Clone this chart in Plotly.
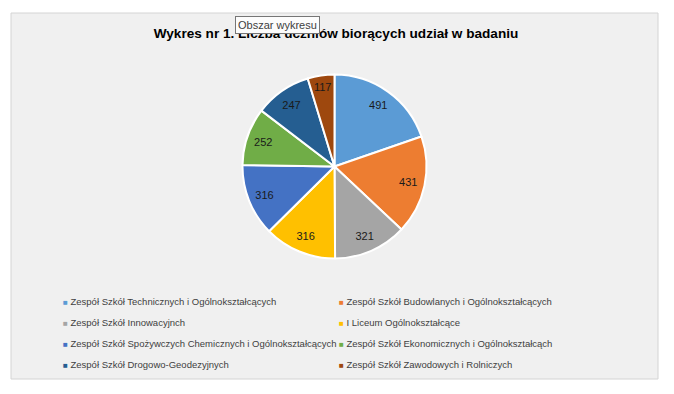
import plotly.graph_objects as go

# page is 674x394; the html body has an 8px margin, so the figure is drawn
# at (8, 8) and sized to fit exactly inside the window.
PAGE_W, PAGE_H = 674, 394
OFF = 8
W, H = PAGE_W - 2 * OFF, PAGE_H - 2 * OFF


def px(x):  # page x -> paper fraction
    return (x - OFF) / W


def py(y):  # page y (from top) -> paper fraction
    return 1 - (y - OFF) / H


schools = [
    "Zespół Szkół Technicznych i Ogólnokształcących",
    "Zespół Szkół Budowlanych i Ogólnokształcących",
    "Zespół Szkół Innowacyjnch",
    "I Liceum Ogólnokształcące",
    "Zespół Szkół Spożywczych Chemicznych i Ogólnokształcących",
    "Zespół Szkół Ekonomicznych i Ogólnokształcąch",
    "Zespół Szkół Drogowo-Geodezyjnych",
    "Zespół Szkół Zawodowych i Rolniczych",
]
students = [491, 431, 321, 316, 316, 252, 247, 117]
colors = ["#5B9BD5", "#ED7D31", "#A5A5A5", "#FFC000",
          "#4472C4", "#70AD47", "#255E91", "#9E480E"]

title_text = "Wykres nr 1. Liczba uczniów biorących udział w badaniu"
font_family = "Liberation Sans, Arial, sans-serif"

fig = go.Figure()

cx, cy, r = 334.5, 166.5, 92
pie_domain = dict(x=[px(cx - r), px(cx + r)], y=[py(cy + r), py(cy - r)])

# coloured pie
fig.add_trace(go.Pie(
    labels=schools,
    values=students,
    sort=False,
    direction="clockwise",
    rotation=0,
    marker=dict(colors=colors, line=dict(color="white", width=2)),
    textinfo="none",
    showlegend=False,
    domain=pie_domain,
    hoverinfo="skip",
))

# transparent ring carrying the value labels near the outer edge
fig.add_trace(go.Pie(
    labels=schools,
    values=students,
    sort=False,
    direction="clockwise",
    rotation=0,
    hole=0.64,
    marker=dict(colors=["rgba(0,0,0,0)"] * len(students),
                line=dict(width=0)),
    textinfo="value",
    textposition="inside",
    insidetextorientation="horizontal",
    textfont=dict(family=font_family, size=11, color="#1A1A1A"),
    showlegend=False,
    domain=pie_domain,
    hoverinfo="label+value",
))

# legend entries
for name, col in zip(schools, colors):
    label = (f'<span style="font-size:9.5px">'
             f'<span style="color:{col};font-size:8px">■</span> {name}</span>')
    fig.add_trace(go.Scatter(
        x=[None], y=[None], mode="markers",
        marker=dict(symbol="square", size=6, color="rgba(0,0,0,0)"),
        name=label,
        showlegend=True,
    ))

fig.update_layout(
    width=W, height=H,
    margin=dict(l=0, r=0, t=0, b=0),
    paper_bgcolor="white",
    plot_bgcolor="rgba(0,0,0,0)",
    xaxis=dict(visible=False),
    yaxis=dict(visible=False),
    font=dict(family=font_family, color="#404040"),
    title=dict(
        text=f"<b>{title_text}</b>",
        x=px(336), xanchor="center",
        y=py(33), yanchor="middle",
        font=dict(family=font_family, size=13.6, color="#000000"),
    ),
    legend=dict(
        orientation="h",
        x=px(23), xanchor="left",
        y=py(283.5), yanchor="top",
        entrywidth=231, entrywidthmode="pixels",
        font=dict(family=font_family, size=14, color="#404040"),
        bgcolor="rgba(0,0,0,0)",
        itemsizing="trace",
        itemclick=False, itemdoubleclick=False,
        traceorder="normal",
    ),
    shapes=[dict(
        type="rect", xref="paper", yref="paper", layer="below",
        x0=px(11), x1=px(658), y0=py(379), y1=py(13),
        fillcolor="#F0F0F0", line=dict(color="#D4D4D4", width=1),
    )],
    annotations=[dict(
        text="Obszar wykresu", xref="paper", yref="paper",
        x=px(235), xanchor="left", y=py(16), yanchor="top",
        showarrow=False, bgcolor="#FCFCFC", bordercolor="#767676",
        borderwidth=1, borderpad=2,
        font=dict(family=font_family, size=11, color="#404040"),
    )],
)

fig.write_html("out.html")
